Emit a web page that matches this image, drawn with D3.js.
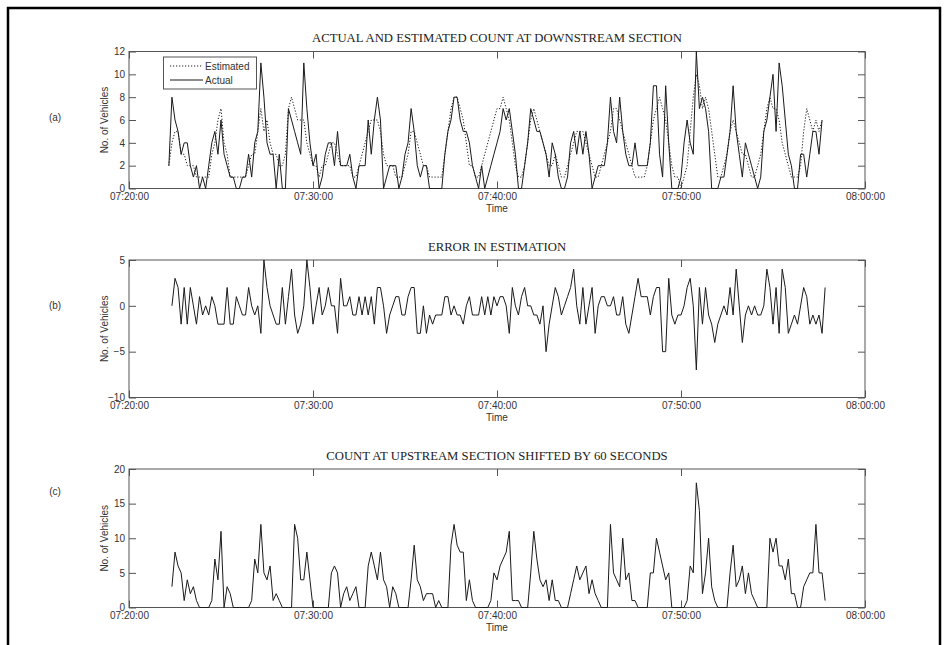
<!DOCTYPE html>
<html><head><meta charset="utf-8">
<script src="https://cdn.jsdelivr.net/npm/d3@7"></script>
<style>
  body { margin:0; background:#fff; }
  svg { display:block; }
  .tick text { font-family: Arial, "Liberation Sans", sans-serif; font-size:10px; fill:#333; }
  .tick line { stroke:#555; }
  .lbl { font-family: Arial, "Liberation Sans", sans-serif; font-size:10px; fill:#333; }
  .ttl { font-family: "Liberation Serif", "Times New Roman", serif; font-size:12.7px; fill:#222; }
</style>
</head><body>
<svg id="fig" width="949" height="645"></svg>
<script>
// seconds after 07:20:00, samples every 10 s
const STEP = 10;
const startA = 130;   // panel (a) first sample (07:22:10)
const startBC = 140;  // panels (b), (c) first sample (07:22:20)

const actual = [2,8,6,5,3,4,4,2,1,2, 0,1,0,2,4,5,3,6,3,2, 1,1,0,0,1,1,3,1,4,5,
  11,8,4,3,3,0,3,0,0,7, 6,5,4,3,11,7,4,2,3,0, 1,3,4,4,2,5,2,2,2,3,
  1,0,2,2,2,6,3,6,8,6, 0,1,2,2,2,0,1,3,4,7, 5,2,1,2,2,0,0,0,0,0,
  3,5,6,8,8,6,5,5,4,2, 1,0,2,0,1,2,3,4,5,7, 6,7,5,3,0,0,2,4,7,6,
  5,5,4,3,1,4,3,1,0,0, 1,4,5,3,5,3,5,3,0,1, 2,2,2,4,8,5,4,8,5,3,
  2,2,4,2,2,2,2,4,9,9, 3,1,9,4,0,0,0,1,4,6, 4,3,12,7,8,7,5,0,0,0,
  1,1,3,5,9,5,3,1,4,3, 2,1,0,1,5,6,8,10,5,11, 9,6,3,2,0,0,3,3,1,3,
  5,5,3,6];

const estimated = [2,4,5,5,3,3,2,2,2,1, 1,1,1,1,3,4,6,7,4,3, 1,1,1,1,1,1,2,3,3,5,
  7,5,6,4,3,3,2,2,3,7, 8,7,6,6,6,4,3,2,2,1, 2,2,3,4,4,3,2,2,2,2,
  1,1,2,3,4,5,6,6,6,5, 3,2,2,2,1,1,1,2,3,5, 5,4,3,2,2,1,1,1,1,1,
  3,5,7,8,8,7,6,4,2,2, 1,1,2,3,4,5,6,7,7,8, 7,6,4,2,1,1,2,4,6,7,
  6,5,4,3,2,2,3,2,1,1, 2,3,4,5,5,5,4,3,2,1, 1,2,3,4,5,7,7,6,5,4,
  3,2,1,1,1,1,2,4,6,7, 8,7,6,4,2,1,1,0,1,2, 5,8,10,9,7,8,7,5,3,1,
  1,2,3,5,6,5,4,3,3,2, 1,1,2,3,5,7,8,7,7,6, 4,3,2,1,1,1,2,5,7,6,
  5,6,5,6];

const errorVals = [0,3,2,-2,2,-2,2,0,-2,1, -1,0,-1,1,0,-2,-2,-2,2,-2, -2,1,0,-1,-1,2,0,-1,0,-3,
  5,2,0,-1,-2,-2,2,-2,1,4, -1,-3,-2,0,5,2,-2,0,2,-1, 0,2,0,0,-3,3,0,0,1,-1,
  -1,1,-1,1,-1,1,-2,2,2,0, -3,-1,0,1,1,-1,-1,1,2,2, -3,-3,0,-3,-1,-2,-1,-1,-1,1,
  1,-1,0,-1,-1,-2,0,1,-1,-1, -1,1,-1,1,-1,1,0,1,1,0, -3,2,0,-1,1,2,0,0,-1,-1,
  -2,0,-5,-2,0,2,1,-1,0,1, 2,4,0,-2,2,-2,0,2,-3,0, 1,1,0,0,1,-1,-1,1,-2,-3,
  -1,1,3,1,1,1,-1,1,2,2, -5,-5,3,-1,-2,-1,-1,0,2,3, 0,-7,2,-2,2,-1,-2,-4,-2,-1,
  0,-1,2,-1,4,0,-4,-1,0,-1, 0,-1,-1,0,4,2,-2,2,-3,4, 2,-3,-2,-1,-2,0,2,1,-2,-1,
  -2,-1,-3,2];

const upstream = [3,8,6,5,1,4,2,3,1,0, 0,0,0,1,7,4,11,0,3,2, 0,0,0,0,0,0,1,7,5,12,
  5,4,6,1,2,1,0,0,0,0, 12,10,4,4,8,4,0,0,0,0, 0,0,5,6,5,0,2,3,1,2,
  3,0,0,0,6,8,6,4,8,4, 3,0,3,2,0,0,0,0,4,9, 4,3,1,2,2,2,0,1,0,0,
  0,9,12,9,8,8,1,4,1,0, 0,0,0,0,1,5,4,6,7,8, 11,1,1,1,0,0,0,5,11,7,
  4,3,4,1,4,1,1,0,0,0, 2,4,6,4,5,6,2,4,2,1, 0,0,0,12,5,4,3,10,4,5,
  1,1,0,0,0,0,5,5,10,8, 6,4,5,0,0,0,0,0,1,6, 5,18,14,2,5,10,3,1,0,0,
  0,0,5,9,3,4,6,2,5,2, 1,0,0,0,0,10,8,10,6,6, 4,7,2,2,0,0,3,4,5,5,
  12,5,5,1];

const timeTicks = [0, 600, 1200, 1800, 2400];
const timeLabels = ["07:20:00", "07:30:00", "07:40:00", "07:50:00", "08:00:00"];

const svg = d3.select("#fig");

// outer frame
svg.append("rect").attr("x", 8).attr("y", 8).attr("width", 932).attr("height", 700)
  .attr("fill", "none").attr("stroke", "#000").attr("stroke-width", 2.5);

const x = d3.scaleLinear().domain([0, 2400]).range([129, 865]);

function toPts(vals, start) {
  return vals.map((v, i) => [start + i * STEP, v]);
}

function panel(o) {
  const y = d3.scaleLinear().domain(o.domain).range([o.bottom, o.top]);
  const g = svg.append("g");
  const fmt = i => timeLabels[timeTicks.indexOf(i)];

  g.append("g").attr("transform", `translate(0,${o.bottom})`)
    .call(d3.axisBottom(x).tickValues(timeTicks).tickFormat(fmt).tickSizeInner(-7).tickSizeOuter(0).tickPadding(4));
  g.append("g").attr("transform", `translate(0,${o.top})`)
    .call(d3.axisTop(x).tickValues(timeTicks).tickFormat("").tickSizeInner(-7).tickSizeOuter(0));
  g.append("g").attr("transform", `translate(${x.range()[0]},0)`)
    .call(d3.axisLeft(y).tickValues(o.ticks).tickSizeInner(-7).tickSizeOuter(0).tickPadding(4));
  g.append("g").attr("transform", `translate(${x.range()[1]},0)`)
    .call(d3.axisRight(y).tickValues(o.ticks).tickFormat("").tickSizeInner(-7).tickSizeOuter(0));
  g.selectAll(".domain").remove();

  g.append("rect").attr("x", x.range()[0]).attr("y", o.top)
    .attr("width", x.range()[1] - x.range()[0]).attr("height", o.bottom - o.top)
    .attr("fill", "none").attr("stroke", "#555").attr("stroke-width", 1);

  const line = d3.line().x(d => x(d[0])).y(d => y(d[1]));
  o.series.forEach(s => {
    g.append("path").datum(s.pts).attr("d", line)
      .attr("fill", "none").attr("stroke", "#1a1a1a").attr("stroke-width", 1)
      .attr("stroke-linejoin", "miter")
      .attr("stroke-dasharray", s.dash || null);
  });

  const cx = (x.range()[0] + x.range()[1]) / 2;
  g.append("text").attr("class", "ttl").attr("x", cx).attr("y", o.top - 13.5)
    .attr("text-anchor", "middle").attr("dy", "0.35em").text(o.title);
  g.append("text").attr("class", "lbl").attr("x", cx).attr("y", o.bottom + 20)
    .attr("text-anchor", "middle").attr("dy", "0.35em").text("Time");
  g.append("text").attr("class", "lbl")
    .attr("transform", `translate(104,${(o.top + o.bottom) / 2}) rotate(-90)`)
    .attr("text-anchor", "middle").attr("dy", "0.35em").text("No. of Vehicles");
  g.append("text").attr("class", "lbl").attr("x", 55).attr("y", o.tagY)
    .attr("text-anchor", "middle").attr("dy", "0.35em").text(o.tag);
  return g;
}

panel({ top: 51.5, bottom: 188.5, domain: [0, 12], ticks: [0, 2, 4, 6, 8, 10, 12],
  title: "ACTUAL AND ESTIMATED COUNT AT DOWNSTREAM SECTION", tag: "(a)", tagY: 117,
  series: [{ pts: toPts(estimated, startA), dash: "1.2,1.8" }, { pts: toPts(actual, startA) }] });

panel({ top: 260, bottom: 397.5, domain: [-10, 5], ticks: [-10, -5, 0, 5],
  title: "ERROR IN ESTIMATION", tag: "(b)", tagY: 305,
  series: [{ pts: toPts(errorVals, startBC) }] });

panel({ top: 469, bottom: 607.5, domain: [0, 20], ticks: [0, 5, 10, 15, 20],
  title: "COUNT AT UPSTREAM SECTION SHIFTED BY 60 SECONDS", tag: "(c)", tagY: 491,
  series: [{ pts: toPts(upstream, startBC) }] });

// legend for panel (a)
const lg = svg.append("g");
lg.append("rect").attr("x", 163.5).attr("y", 57).attr("width", 93).attr("height", 32)
  .attr("fill", "#fff").attr("stroke", "#555").attr("stroke-width", 1);
lg.append("line").attr("x1", 170).attr("x2", 203).attr("y1", 66).attr("y2", 66)
  .attr("stroke", "#1a1a1a").attr("stroke-dasharray", "1.2,1.8");
lg.append("line").attr("x1", 170).attr("x2", 203).attr("y1", 80).attr("y2", 80)
  .attr("stroke", "#1a1a1a");
lg.append("text").attr("class", "lbl").attr("x", 205).attr("y", 66).attr("dy", "0.35em").text("Estimated");
lg.append("text").attr("class", "lbl").attr("x", 205).attr("y", 80).attr("dy", "0.35em").text("Actual");
</script>
</body></html>
